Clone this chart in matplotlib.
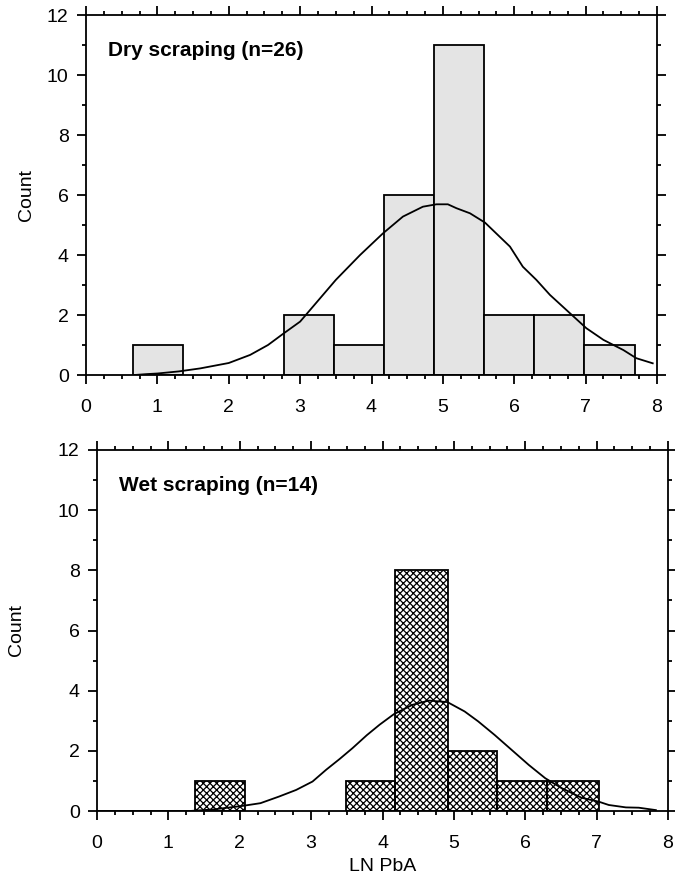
import numpy as np
import matplotlib.pyplot as plt
from matplotlib.ticker import MultipleLocator

plt.rcParams['font.family'] = ['Liberation Sans', 'DejaVu Sans']
plt.rcParams['hatch.linewidth'] = 0.9

# dry scraping histogram (bin edges)
dry_edges = [0.66, 1.36, 2.06, 2.77, 3.47, 4.17, 4.87, 5.58, 6.28, 6.98, 7.69]
dry_counts = [1, 0, 0, 2, 1, 6, 11, 2, 2, 1]
dry_curve_x = [0.68, 0.85, 1.0, 1.3, 1.6, 2.0, 2.3, 2.55, 2.76, 3.0, 3.18, 3.5,
               3.84, 4.16, 4.44, 4.72, 4.91, 5.07, 5.19, 5.38, 5.59, 5.94, 6.12,
               6.31, 6.5, 6.78, 7.01, 7.25, 7.53, 7.71, 7.94]
dry_curve_y = [0.0, 0.03, 0.05, 0.12, 0.22, 0.4, 0.67, 1.0, 1.37, 1.78, 2.28, 3.17,
               4.0, 4.72, 5.28, 5.61, 5.69, 5.69, 5.56, 5.39, 5.08, 4.28, 3.61,
               3.17, 2.67, 2.06, 1.56, 1.17, 0.83, 0.56, 0.39]

# wet scraping histogram
wet_edges = [1.37, 2.08, 2.78, 3.49, 4.18, 4.92, 5.61, 6.30, 7.03]
wet_counts = [1, 0, 0, 1, 8, 2, 1, 1]
wet_curve_x = [0.0, 1.3, 1.62, 2.04, 2.29, 2.55, 2.79, 3.02, 3.21, 3.4, 3.58, 3.78,
               3.96, 4.16, 4.42, 4.65, 4.91, 5.15, 5.34, 5.57, 5.81, 6.05, 6.28,
               6.51, 6.79, 7.03, 7.17, 7.41, 7.59, 7.83]
wet_curve_y = [0.0, 0.0, 0.05, 0.17, 0.26, 0.48, 0.7, 0.98, 1.37, 1.73, 2.09, 2.52,
               2.87, 3.22, 3.53, 3.67, 3.62, 3.31, 2.98, 2.53, 2.03, 1.53, 1.09,
               0.76, 0.44, 0.31, 0.2, 0.12, 0.11, 0.03]

W, H = 675, 884
fig = plt.figure(figsize=(W / 100, H / 100), dpi=100)
ax1 = fig.add_axes([86 / W, 1 - 375 / H, 571 / W, 360 / H])
ax2 = fig.add_axes([97 / W, 1 - 811 / H, 571 / W, 361 / H])


def draw(ax, edges, counts, cx, cy, label, hatched, label_x_px):
    edges = np.array(edges)
    counts = np.array(counts)
    keep = counts > 0
    left = edges[:-1][keep]
    width = np.diff(edges)[keep]
    if hatched:
        ax.bar(left, counts[keep], width=width, align='edge', facecolor='white',
               edgecolor='black', linewidth=0, hatch='xxxxx', zorder=2)
        ax.bar(left, counts[keep], width=width, align='edge', facecolor='none',
               edgecolor='black', linewidth=1.3, zorder=3)
    else:
        ax.bar(left, counts[keep], width=width, align='edge', facecolor='#e4e4e4',
               edgecolor='black', linewidth=1.3, zorder=2)
    ax.plot(cx, cy, color='black', linewidth=1.3, zorder=4)
    ax.set_xlim(0, 8)
    ax.set_ylim(0, 12)
    ax.xaxis.set_major_locator(MultipleLocator(1))
    ax.xaxis.set_minor_locator(MultipleLocator(0.25))
    ax.yaxis.set_major_locator(MultipleLocator(2))
    ax.yaxis.set_minor_locator(MultipleLocator(1))
    ax.tick_params(which='both', direction='out', top=True, right=True,
                   width=1.3, labelsize=14, colors='black')
    ax.tick_params(which='major', length=6.5)
    ax.tick_params(which='minor', length=3)
    ax.tick_params(axis='x', which='major', pad=11)
    ax.tick_params(axis='y', which='major', pad=6)
    for s in ax.spines.values():
        s.set_linewidth(1.3)
    ax.set_ylabel('Count', fontsize=14)
    pos = ax.get_position()
    ax.yaxis.set_label_coords((label_x_px / W - pos.x0) / pos.width, 0.5)
    ax.text(0.31, 10.82, label, fontsize=15, fontweight='bold', va='center')


draw(ax1, dry_edges, dry_counts, dry_curve_x, dry_curve_y, 'Dry scraping (n=26)', False, 35)
draw(ax2, wet_edges, wet_counts, wet_curve_x, wet_curve_y, 'Wet scraping (n=14)', True, 25)
ax2.set_xlabel('LN PbA', fontsize=14, labelpad=4)

fig.savefig('out.png', dpi=100)
